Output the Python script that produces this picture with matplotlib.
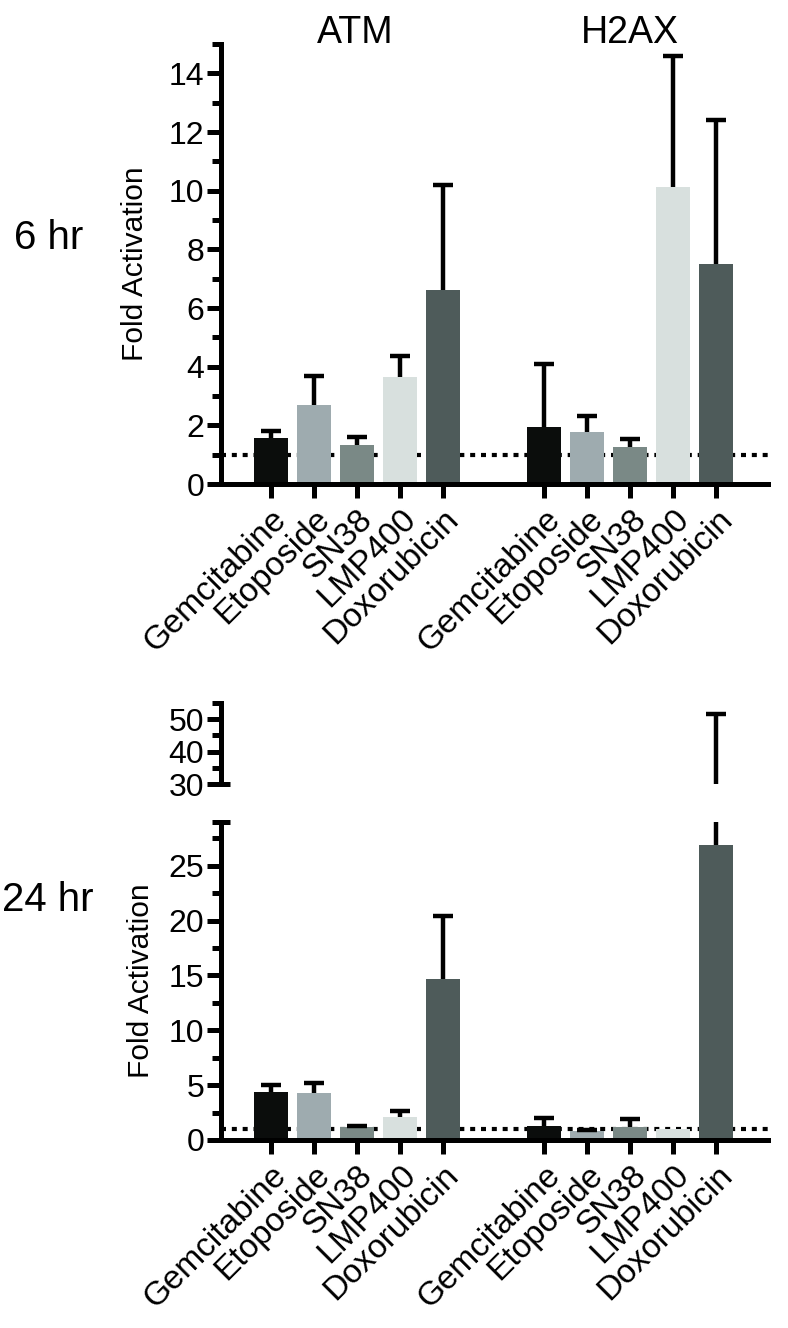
import numpy as np
import matplotlib
matplotlib.use("Agg")
import matplotlib.pyplot as plt

plt.rcParams['font.family'] = ['Liberation Sans', 'DejaVu Sans']

drugs = ['Gemcitabine', 'Etoposide', 'SN38', 'LMP400', 'Doxorubicin']
colors = ['#0b0d0c', '#9eabaf', '#7a8986', '#d8e0de', '#4e5b5a']

# 6 hr: mean and upper error
atm_6 = [1.57, 2.71, 1.34, 3.66, 6.6]
atm_6_err = [0.23, 0.97, 0.26, 0.70, 3.6]
h2ax_6 = [1.96, 1.76, 1.27, 10.12, 7.49]
h2ax_6_err = [2.14, 0.55, 0.27, 4.48, 4.93]

# 24 hr
atm_24 = [4.4, 4.3, 1.2, 2.05, 14.7]
atm_24_err = [0.65, 0.9, 0.1, 0.6, 5.7]
h2ax_24 = [1.27, 0.78, 1.22, 1.0, 26.9]
h2ax_24_err = [0.7, 0.12, 0.66, 0.0, 24.6]

x_atm = np.arange(5)
x_h2ax = np.arange(5) + 6.35
xlim = (-1.16, 11.55)
bw = 0.79
LW = 3.6

fig = plt.figure(figsize=(7.88, 13.28), dpi=100)


def style(ax, bottom=True):
    for s in ['top', 'right']:
        ax.spines[s].set_visible(False)
    ax.spines['left'].set_linewidth(LW)
    if bottom:
        ax.spines['bottom'].set_linewidth(LW)
    else:
        ax.spines['bottom'].set_visible(False)
    ax.tick_params(axis='y', which='major', length=10, width=LW, labelsize=23, pad=2)
    ax.tick_params(axis='y', which='minor', length=6.5, width=LW)
    ax.tick_params(axis='x', which='major', length=10, width=LW, labelsize=24, pad=4)
    ax.set_xlim(*xlim)


def draw_bars(ax, means_a, errs_a, means_h, errs_h):
    ax.axhline(1, color='black', lw=3, dashes=(1.2, 1.4), zorder=1)
    for xs, means, errs in [(x_atm, means_a, errs_a), (x_h2ax, means_h, errs_h)]:
        ax.bar(xs, means, width=bw, color=colors, zorder=2)
        for xi, m, e in zip(xs, means, errs):
            if e > 0:
                eb = ax.errorbar(xi, m, yerr=[[0], [e]], fmt='none', ecolor='black',
                                 elinewidth=3.2, capsize=7.5, capthick=3.2, zorder=3)
                # only the upper cap, as in the original
                eb[1][0].set_visible(False)


ticks_x = list(x_atm) + list(x_h2ax)
labels_x = drugs + drugs

# ---- 6 hr panel ----
ax1 = fig.add_axes([0.2805, 0.6355, 0.694, 0.3313])
style(ax1)
draw_bars(ax1, atm_6, atm_6_err, h2ax_6, h2ax_6_err)
ax1.set_ylim(0, 15)
ax1.set_yticks(np.arange(0, 15, 2))
ax1.set_yticks(np.arange(1, 16, 2), minor=True)
ax1.set_xticks(ticks_x)
ax1.set_xticklabels(labels_x, rotation=45, ha='right', rotation_mode='anchor')
ax1.set_ylabel('Fold Activation', fontsize=21.5, labelpad=14)

# ---- 24 hr panel (broken axis) ----
ax2 = fig.add_axes([0.2805, 0.1416, 0.694, 0.2395])
style(ax2)
draw_bars(ax2, atm_24, atm_24_err, h2ax_24, h2ax_24_err)
ax2.set_ylim(0, 29)
ax2.set_yticks(np.arange(0, 26, 5))
ax2.set_yticks(np.arange(2.5, 29, 5), minor=True)
ax2.set_xticks(ticks_x)
ax2.set_xticklabels(labels_x, rotation=45, ha='right', rotation_mode='anchor')
ax2.set_ylabel('Fold Activation', fontsize=21.5, labelpad=10)

ax3 = fig.add_axes([0.2805, 0.4096, 0.694, 0.061])
style(ax3, bottom=False)
draw_bars(ax3, atm_24, atm_24_err, h2ax_24, h2ax_24_err)
ax3.set_ylim(30, 55)
ax3.set_yticks([30, 40, 50])
ax3.set_yticks([35, 45, 55], minor=True)
ax3.set_xticks([])

# break marks
ax2.plot([0], [29], marker='_', markersize=13, mew=LW, color='black',
         transform=ax2.get_yaxis_transform(), clip_on=False, zorder=5)
ax3.plot([0], [30], marker='_', markersize=13, mew=LW, color='black',
         transform=ax3.get_yaxis_transform(), clip_on=False, zorder=5)

# titles and row labels
fig.text(355 / 788, 1 - 43 / 1328, 'ATM', fontsize=27, ha='center', va='baseline')
fig.text(630 / 788, 1 - 43 / 1328, 'H2AX', fontsize=27, ha='center', va='baseline')
fig.text(49 / 788, 1 - 238 / 1328, '6 hr', fontsize=29, ha='center', va='center')
fig.text(48 / 788, 1 - 900 / 1328, '24 hr', fontsize=29, ha='center', va='center')

fig.savefig('out.png', dpi=100)
